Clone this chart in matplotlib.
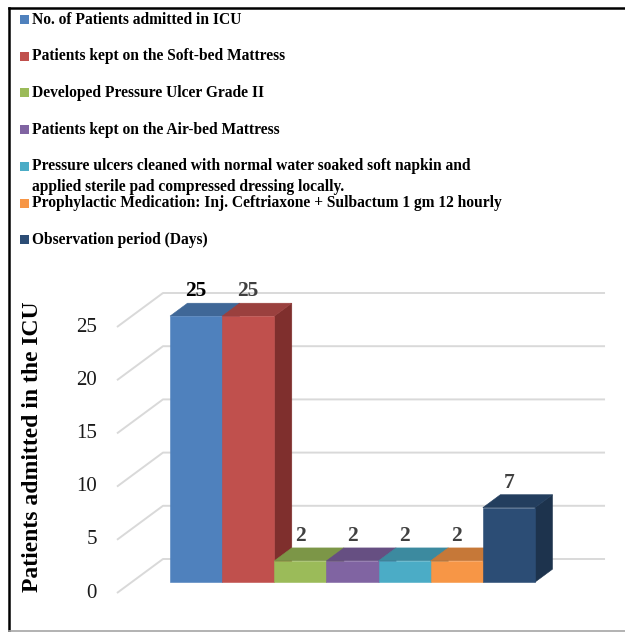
import matplotlib
matplotlib.use("Agg")
import matplotlib.pyplot as plt
from matplotlib.patches import Polygon, Rectangle
from matplotlib.lines import Line2D

plt.rcParams["font.family"] = ["Liberation Serif", "DejaVu Serif"]

# ---- data -------------------------------------------------------------
series = [
    "No. of Patients admitted in ICU",
    "Patients kept on the Soft-bed Mattress",
    "Developed Pressure Ulcer Grade II",
    "Patients kept on the Air-bed Mattress",
    "Pressure ulcers cleaned with normal water soaked soft napkin and\n"
    "applied sterile pad compressed dressing locally.",
    "Prophylactic Medication: Inj. Ceftriaxone + Sulbactum 1 gm 12 hourly",
    "Observation period (Days)",
]
values = [25, 25, 2, 2, 2, 2, 7]
y_ticks = [0, 5, 10, 15, 20, 25]
y_label = "Patients admitted in the ICU"

# ---- styles -----------------------------------------------------------
front_colors = ["#4F81BD", "#C0504D", "#9BBB59", "#8064A2", "#4BACC6", "#F79646", "#2C4D75"]
top_colors = ["#3F6797", "#9A403E", "#7C9647", "#664F82", "#3C8A9F", "#C67838", "#233E5E"]
side_colors = ["#34557D", "#7F2F2D", "#667B3B", "#54426B", "#317184", "#A3632E", "#1D334D"]
label_colors = ["#000000", "#404040", "#404040", "#404040", "#404040", "#404040", "#404040"]

W, H = 625, 632
fig = plt.figure(figsize=(W / 100, H / 100), dpi=100)
ax = fig.add_axes([0, 0, 1, 1])
ax.axis("off")

# pixel geometry of the pseudo-3D frame
PX_PER_BAR = 52.14          # horizontal pixels per category slot
PX_PER_UNIT = 10.64         # vertical pixels per value unit
ORIGIN_PX = (155.3, 593.0)  # (x from left, y from top) of slot 0, value 0, depth 0
DEPTH_PX = (46.0, 34.0)     # full floor depth, right and up
DX = DEPTH_PX[0] / PX_PER_BAR
DY = DEPTH_PX[1] / PX_PER_UNIT
BAR_D0, BAR_D1 = 0.32, 0.70
WALL_X0, WALL_X1 = -0.735, 7.743

ax.set_xlim(-ORIGIN_PX[0] / PX_PER_BAR, (W - ORIGIN_PX[0]) / PX_PER_BAR)
ax.set_ylim(-(H - ORIGIN_PX[1]) / PX_PER_UNIT, ORIGIN_PX[1] / PX_PER_UNIT)


def proj(x, y, d):
    return (x + d * DX, y + d * DY)


grid_color = "#D9D9D9"
for t in y_ticks:
    a = proj(WALL_X0, t, 0)
    b = proj(WALL_X0, t, 1)
    c = proj(WALL_X1, t, 1)
    ax.plot([a[0], b[0], c[0]], [a[1], b[1], c[1]], color=grid_color, lw=1.4,
            solid_capstyle="butt", zorder=1)
    ax.annotate(str(t), xy=a, xytext=(-14.5, 0), textcoords="offset points",
                ha="right", va="center", fontsize=15, color="#1a1a1a")

for i, v in enumerate(values):
    side = [proj(i + 1, 0, BAR_D0), proj(i + 1, v, BAR_D0),
            proj(i + 1, v, BAR_D1), proj(i + 1, 0, BAR_D1)]
    top = [proj(i, v, BAR_D0), proj(i + 1, v, BAR_D0),
           proj(i + 1, v, BAR_D1), proj(i, v, BAR_D1)]
    front = [proj(i, 0, BAR_D0), proj(i + 1, 0, BAR_D0),
             proj(i + 1, v, BAR_D0), proj(i, v, BAR_D0)]
    z = 2 + i
    ax.add_patch(Polygon(side, closed=True, fc=side_colors[i], ec=side_colors[i], lw=0.4, zorder=z))
    ax.add_patch(Polygon(top, closed=True, fc=top_colors[i], ec=top_colors[i], lw=0.4, zorder=z))
    ax.add_patch(Polygon(front, closed=True, fc=front_colors[i], ec=front_colors[i], lw=0.4, zorder=z))
    ax.annotate(f"{v}", xy=proj(i + 0.5, v, BAR_D0), xytext=(0, 18),
                textcoords="offset points", ha="center", va="center",
                fontsize=15.5, fontweight="bold", color=label_colors[i], zorder=20)

# axis title
fig.text(33 / W, 1 - 447 / H, y_label, rotation=90, ha="center", va="center",
         fontsize=17, fontweight="bold", color="#000000")

# legend entries stacked at the top
LEG_Y0, LEG_STEP, LEG_LINE = 19.5, 36.7, 21.0
for i, name in enumerate(series):
    yc = LEG_Y0 + LEG_STEP * i
    fig.patches.append(Rectangle((20 / W, 1 - (yc + 4.5) / H), 9 / W, 9 / H,
                                 transform=fig.transFigure, fc=front_colors[i], ec="none"))
    for k, line in enumerate(name.split("\n")):
        fig.text(32 / W, 1 - (yc + k * LEG_LINE) / H, line, ha="left", va="center",
                 fontsize=11.2, fontweight="bold", color="#000000")

# outer frame
fig.lines.append(Line2D([9 / W, 1], [1 - 8 / H, 1 - 8 / H], transform=fig.transFigure,
                        color="black", lw=1.8))
fig.lines.append(Line2D([9 / W, 9 / W], [1 - 8 / H, 1 - 631 / H], transform=fig.transFigure,
                        color="black", lw=1.8))
fig.lines.append(Line2D([9 / W, 1], [1 - 631 / H, 1 - 631 / H], transform=fig.transFigure,
                        color="#A6A6A6", lw=1.2))

fig.savefig("out.png", dpi=100, facecolor="white")
